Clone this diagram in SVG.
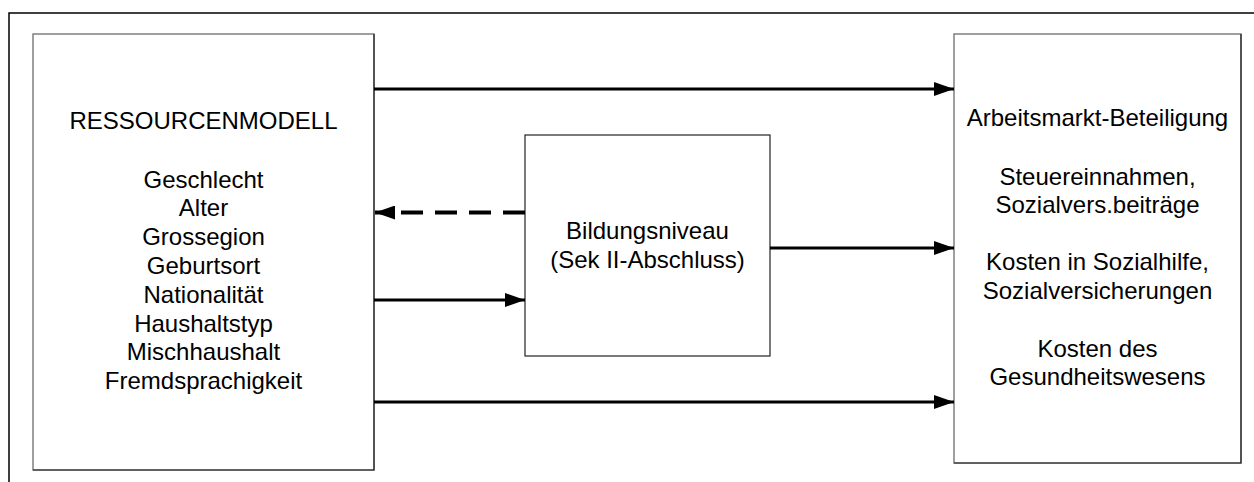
<svg xmlns="http://www.w3.org/2000/svg" width="1254" height="482" viewBox="0 0 1254 482">
<style>
  .box { fill: #ffffff; stroke: #808080; stroke-width: 1.5; }
  .edge { fill: none; stroke: #222222; stroke-width: 1.2; }
  .mid { fill: #ffffff; stroke: #222222; stroke-width: 1.2; }
  .t { font-family: "Liberation Sans", Arial, sans-serif; font-size: 24px; fill: #000000; text-anchor: middle; }
  .conn { stroke: #000000; stroke-width: 3; fill: none; }
  .dash { stroke: #000000; stroke-width: 4; fill: none; stroke-dasharray: 22 12; }
</style>
<defs>
  <marker id="ah" markerUnits="userSpaceOnUse" markerWidth="20" markerHeight="14" refX="20" refY="7" orient="auto">
    <path d="M0,0 L20,7 L0,14 Z" fill="#000000"/>
  </marker>
</defs>
<rect width="1254" height="482" fill="#ffffff"/>
<path d="M9,482 V13 H1254" fill="none" stroke="#000000" stroke-width="1.5"/>

<g id="ressourcenmodell">
  <rect class="box" x="33" y="34" width="341" height="436"/>
  <path class="edge" d="M33,470 H374 V34"/>
  <text class="t" x="203.5" y="129.3">RESSOURCENMODELL</text>
  <text class="t" x="203.5" y="187.5">Geschlecht</text>
  <text class="t" x="203.5" y="216.3">Alter</text>
  <text class="t" x="203.5" y="245.1">Grossegion</text>
  <text class="t" x="203.5" y="273.9">Geburtsort</text>
  <text class="t" x="203.5" y="302.7">Nationalität</text>
  <text class="t" x="203.5" y="331.5">Haushaltstyp</text>
  <text class="t" x="203.5" y="360.3">Mischhaushalt</text>
  <text class="t" x="203.5" y="389.1">Fremdsprachigkeit</text>
</g>

<g id="bildungsniveau">
  <rect class="mid" x="525" y="135" width="245" height="221"/>
  <text class="t" x="647.5" y="239.3">Bildungsniveau</text>
  <text class="t" x="647.5" y="267.5">(Sek II-Abschluss)</text>
</g>

<g id="ergebnisse">
  <rect class="box" x="954" y="34" width="287" height="429"/>
  <path class="edge" d="M954,463 H1241 V34"/>
  <text class="t" x="1097.5" y="126.3">Arbeitsmarkt-Beteiligung</text>
  <text class="t" x="1097.5" y="184.5">Steuereinnahmen,</text>
  <text class="t" x="1097.5" y="213">Sozialvers.beiträge</text>
  <text class="t" x="1097.5" y="270">Kosten in Sozialhilfe,</text>
  <text class="t" x="1097.5" y="298.5">Sozialversicherungen</text>
  <text class="t" x="1097.5" y="356.7">Kosten des</text>
  <text class="t" x="1097.5" y="385.3">Gesundheitswesens</text>
</g>

<g id="connectors">
  <line class="conn" x1="374" y1="89" x2="954" y2="89" marker-end="url(#ah)"/>
  <line class="dash" x1="525" y1="212.5" x2="375" y2="212.5" marker-end="url(#ah)"/>
  <line class="conn" x1="374" y1="300" x2="525" y2="300" marker-end="url(#ah)"/>
  <line class="conn" x1="770" y1="248" x2="954" y2="248" marker-end="url(#ah)"/>
  <line class="conn" x1="374" y1="402" x2="954" y2="402" marker-end="url(#ah)"/>
</g>
</svg>
